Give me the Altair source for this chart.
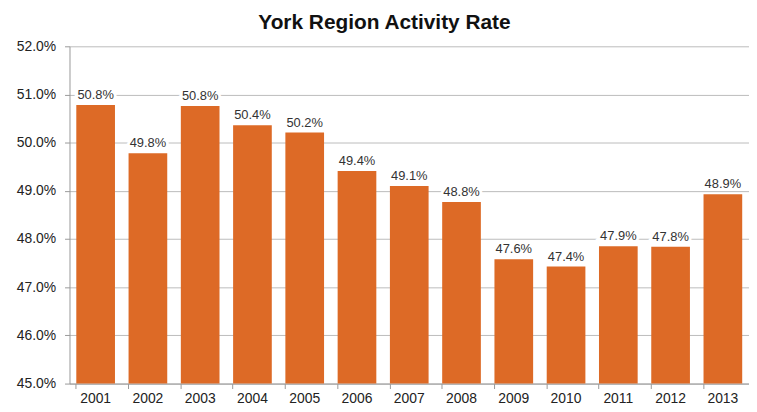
import altair as alt
import pandas as pd

years = ["2001", "2002", "2003", "2004", "2005", "2006", "2007",
         "2008", "2009", "2010", "2011", "2012", "2013"]
rates = [50.78, 49.78, 50.76, 50.36, 50.21, 49.41, 49.1,
         48.77, 47.58, 47.43, 47.85, 47.84, 48.93]

df = pd.DataFrame({"year": years, "rate": rates})
df["label"] = [f"{v:.1f}%" for v in rates]

FONT = "Liberation Sans"

base = alt.Chart(df).encode(
    x=alt.X("year:N", sort=years,
            scale=alt.Scale(paddingInner=0.26, paddingOuter=0.13),
            axis=alt.Axis(title=None, labelAngle=0, labelFontSize=14,
                          labelColor="#222", labelFont=FONT, domainColor="#999",
                          ticks=True, tickColor="#999", tickSize=5, bandPosition=0,
                          labelPadding=3)),
)

bars = base.mark_bar(color="#DD6A26").encode(
    y=alt.Y("rate:Q",
            scale=alt.Scale(domain=[45, 52], clamp=True, zero=False, nice=False),
            axis=alt.Axis(title=None, values=[45, 46, 47, 48, 49, 50, 51, 52],
                          labelExpr="format(datum.value, '.1f') + '%'",
                          labelFontSize=14, labelColor="#222", labelFont=FONT,
                          gridColor="#bbb", gridWidth=1, domainColor="#999",
                          tickColor="#999", tickSize=5, labelPadding=9)),
)

halo = base.mark_text(dy=-10, fontSize=13, font=FONT, color="white",
                      stroke="white", strokeWidth=6).encode(
    y=alt.Y("rate:Q"),
    text="label:N",
)

labels = base.mark_text(dy=-10, fontSize=13, font=FONT, color="#333").encode(
    y=alt.Y("rate:Q"),
    text="label:N",
)

chart = (bars + halo + labels).properties(
    width=685, height=340,
    title=alt.TitleParams("York Region Activity Rate", fontSize=21, font=FONT,
                          fontWeight="bold", color="#111", anchor="middle",
                          offset=6, dx=-25),
    autosize=alt.AutoSizeParams(type="none"),
    padding={"left": 62, "top": 37, "right": 0, "bottom": 22},
).configure_view(stroke=None).configure_axis(grid=True).configure_axisX(grid=False)

chart.save("out.html", embed_options={"renderer": "svg", "actions": False})
